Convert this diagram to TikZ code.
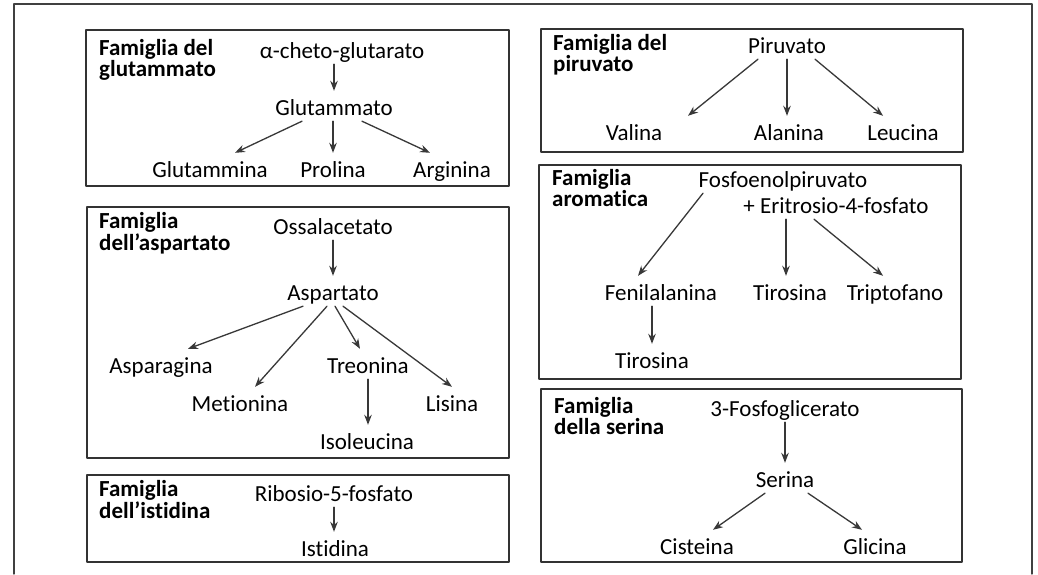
\documentclass[tikz,border=0pt]{standalone}
\usepackage{fontspec}
\setmainfont[Ligatures=NoCommon]{Carlito}
\usepackage{tikz}
\usetikzlibrary{arrows.meta,calc,positioning}

\begin{document}
\begin{tikzpicture}[x=1pt,y=-1pt,line cap=round,line join=round,
  >={Stealth[length=10pt,width=7.5pt]},
  arr/.style={->,draw=black!78,line width=1.3pt},
  famblock/.style={draw=black!80,line width=1.4pt},
  aa/.style={anchor=base,inner sep=3pt,text height=21pt,text depth=3pt,
    font=\fontsize{23}{24}\selectfont},
  famname/.style={anchor=base west,inner sep=0pt,align=left,
    font=\fontsize{23}{18.5}\selectfont\bfseries}]
\useasboundingbox (0,0) rectangle (1038,574);
\fill[white] (0,0) rectangle (1038,574);
\draw[black!75,line width=1.3pt] (14,574) -- (14,4) -- (1032,4) -- (1032,574);
% family boxes
\draw[famblock] (86,30) rectangle (509,186);
\draw[famblock] (87,207) rectangle (509,458);
\draw[famblock] (87,475) rectangle (509,562);
\draw[famblock] (541,29) rectangle (963,152);
\draw[famblock] (539,165) rectangle (961,379);
\draw[famblock] (541,389) rectangle (962,562);
% glutammato
\node[famname] (tGlu) at (99,76.5) {Famiglia del\\glutammato};
\node[aa] (akg) at (342,58) {α-cheto-glutarato};
\node[aa] (glu) at (334,115) {Glutammato};
\node[aa] (gln) at (210,177) {Glutammina};
\node[aa] (pro) at (333,177) {Prolina};
\node[aa] (arg) at (452,177) {Arginina};
\draw[arr] (akg.south -| glu.north) -- (glu.north);
\draw[arr] ([xshift=-32]glu.south) -- ([xshift=25]gln.north);
\draw[arr] (glu.south -| pro.north) -- (pro.north);
\draw[arr] ([xshift=28]glu.south) -- ([xshift=-22]arg.north);
% aspartato
\node[famname] (tAsp) at (99,250.5) {Famiglia\\dell’aspartato};
\node[aa] (oaa) at (333,234) {Ossalacetato};
\node[aa] (asp) at (333,300) {Aspartato};
\node[aa] (asn) at (161,373) {Asparagina};
\node[aa] (thr) at (368,373) {Treonina};
\node[aa] (met) at (240,411) {Metionina};
\node[aa] (lys) at (452,411) {Lisina};
\node[aa] (ile) at (367,449) {Isoleucina};
\draw[arr] (oaa.south) -- (asp.north);
\draw[arr] ([xshift=-30]asp.south) -- ([xshift=27]asn.north);
\draw[arr] ([xshift=-6]asp.south) -- ([xshift=15]met.north);
\draw[arr] ([xshift=2]asp.south) -- ([xshift=-8]thr.north);
\draw[arr] ([xshift=10]asp.south) -- (lys.north);
\draw[arr] (thr.south) -- (thr.south |- ile.north);
% istidina
\node[famname] (tHis) at (99,518.5) {Famiglia\\dell’istidina};
\node[aa] (r5p) at (334,501) {Ribosio-5-fosfato};
\node[aa] (his) at (335,556) {Istidina};
\draw[arr] (r5p.south) -- (r5p.south |- his.north);
% piruvato
\node[famname] (tPyr) at (553,71.5) {Famiglia del\\piruvato};
\node[aa] (pyr) at (787,53) {Piruvato};
\node[aa] (val) at (634,140) {Valina};
\node[aa] (ala) at (789,140) {Alanina};
\node[aa] (leu) at (903,140) {Leucina};
\draw[arr] ([xshift=-29]pyr.south) -- ([xshift=54]val.north);
\draw[arr] (pyr.south) -- (pyr.south |- ala.north);
\draw[arr] ([xshift=28]pyr.south) -- ([xshift=-20]leu.north);
% aromatica
\node[famname] (tAro) at (552,206.5) {Famiglia\\aromatica};
\node[aa] (pep) at (783,187) {Fosfoenolpiruvato};
\node[aa] (e4p) at (836,213) {+ Eritrosio-4-fosfato};
\node[aa] (phe) at (661,300) {Fenilalanina};
\node[aa] (tyr) at (790,300) {Tirosina};
\node[aa] (trp) at (895,300) {Triptofano};
\node[aa] (tyrb) at (652,368) {Tirosina};
\draw[arr] ([xshift=-80]pep.south) -- ([xshift=-23]phe.north);
\draw[arr] ([xshift=-50]e4p.south) -- ([xshift=-4]tyr.north);
\draw[arr] ([xshift=-22]e4p.south) -- ([xshift=-12]trp.north);
\draw[arr] (phe.south -| tyrb.north) -- (tyrb.north);
% serina
\node[famname] (tSer) at (554,434.5) {Famiglia\\della serina};
\node[aa] (pga) at (785,416) {3-Fosfoglicerato};
\node[aa] (ser) at (785,487) {Serina};
\node[aa] (cys) at (697,554) {Cisteina};
\node[aa] (gly) at (875,554) {Glicina};
\draw[arr] (pga.south) -- (ser.north);
\draw[arr] ([xshift=-20]ser.south) -- ([xshift=16]cys.north);
\draw[arr] ([xshift=23]ser.south) -- ([xshift=-13]gly.north);
\end{tikzpicture}
\end{document}
